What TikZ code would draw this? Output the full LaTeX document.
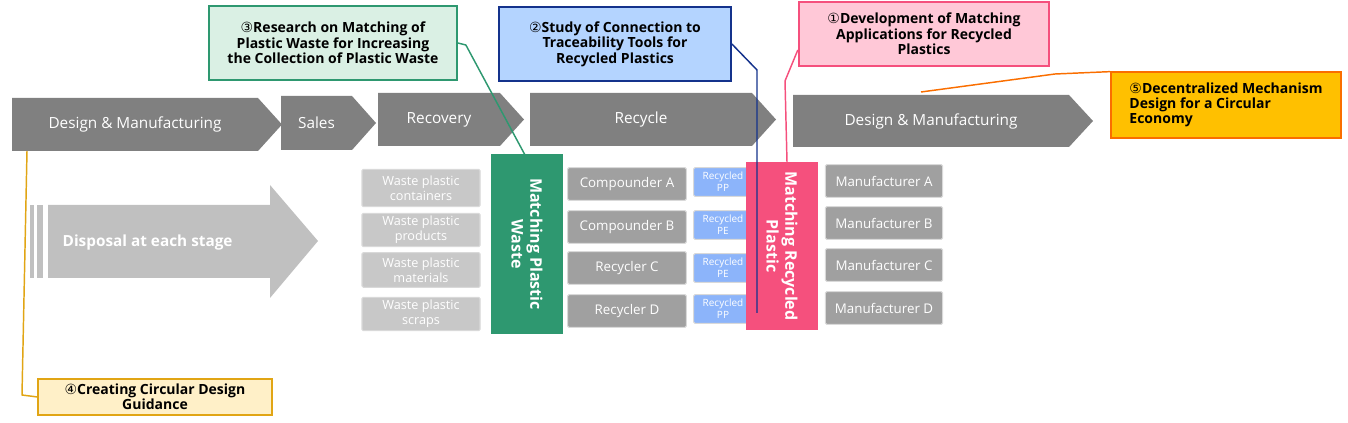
\documentclass[tikz,border=0pt]{standalone}
\usepackage{fontspec}
\setmainfont{Open Sans}
\newfontfamily\circfont{DejaVu Sans}
\usetikzlibrary{positioning}
\definecolor{stagegray}{RGB}{128,128,128}
\definecolor{dispgray}{RGB}{192,192,192}
\definecolor{wastegray}{RGB}{200,200,200}
\definecolor{compgray}{RGB}{160,160,160}
\definecolor{rpblue}{RGB}{140,180,250}
\definecolor{mgreen}{RGB}{46,152,112}
\definecolor{mpink}{RGB}{245,80,125}
\definecolor{c1fill}{RGB}{255,200,215}
\definecolor{c2fill}{RGB}{180,212,255}
\definecolor{c2line}{RGB}{20,50,140}
\definecolor{c3fill}{RGB}{218,240,228}
\definecolor{c5fill}{RGB}{255,192,0}
\definecolor{c5line}{RGB}{250,110,0}
\definecolor{c4fill}{RGB}{255,240,200}
\definecolor{c4line}{RGB}{225,165,20}
\tikzset{
  box/.style={draw=white!85!black,line width=0.8pt,rounded corners=1pt,text=white,align=center,inner sep=0pt},
  waste/.style={box,fill=wastegray,minimum width=88.5pt,font=\fontsize{9.5}{11}\selectfont},
  firm/.style={box,fill=compgray,minimum width=89pt,minimum height=24.5pt,font=\fontsize{10}{12}\selectfont},
  rp/.style={box,fill=rpblue,minimum width=44pt,minimum height=21.5pt,font=\fontsize{7.5}{9}\selectfont},
  vtext/.style={rotate=-90,text=white,align=center,font=\fontsize{12}{14}\selectfont\bfseries},
  callout/.style={draw,line width=1.3pt,align=center,font=\fontsize{10.5}{11.5}\selectfont\bfseries,inner sep=2pt},
  lead/.style={line width=1.1pt}
}
\newcommand{\stagearrow}[6]{% name, x1, x2, ytop, ybot, text
  \pgfmathsetmacro{\ymid}{(#4+#5)/2}
  \fill[stagegray] (#2,#4) -- (#3-24,#4) -- (#3,\ymid) -- (#3-24,#5) -- (#2,#5) -- cycle;
  \node[text=white,font=\fontsize{11.5}{14}\selectfont] (#1) at ({(#2+#3-24)/2},\ymid) {#6};
}
\begin{document}
\begin{tikzpicture}[x=0.75pt,y=-0.75pt]
\useasboundingbox (0,0) rectangle (1348,423);

% stages
\stagearrow{dm1}{12}{282}{98}{151}{Design \& Manufacturing}
\stagearrow{sales}{281}{376}{96}{150}{Sales}
\stagearrow{recovery}{378}{524}{93}{146}{Recovery}
\stagearrow{recycle}{530}{776}{93}{146}{Recycle}
\stagearrow{dm2}{793}{1093}{95}{147}{Design \& Manufacturing}

% disposal
\fill[dispgray] (30,205) rectangle (34,278);
\fill[dispgray] (37,205) rectangle (43,278);
\fill[dispgray] (48,205) -- (270,205) -- (270,185) -- (318,241) -- (270,298) -- (270,278) -- (48,278) -- cycle;
\node[text=white,font=\fontsize{11.5}{13}\selectfont\bfseries,anchor=west] (disp) at (58,243) {Disposal at each stage};

% waste
\node[waste,minimum height=28pt] (w1) at (421,188) {Waste plastic\\containers};
\node[waste,minimum height=25pt] (w2) at (421,230) {Waste plastic\\products};
\node[waste,minimum height=26pt] (w3) at (421,270) {Waste plastic\\materials};
\node[waste,minimum height=25pt] (w4) at (421,314) {Waste plastic\\scraps};

% matching plastic waste
\node[fill=mgreen,minimum width=54pt,minimum height=135pt] (mpw) at (527,244) {};
\node[vtext] at (mpw) {Matching Plastic\\Waste};

% compounders / recyclers
\foreach \n/\t/\y in {c1/Compounder A/184,c2/Compounder B/227,c3/Recycler C/268,c4/Recycler D/311}
  \node[firm] (\n) at (627,\y) {\t};
\foreach \n/\t/\y in {r1/PP/182,r2/PE/225,r3/PE/268,r4/PP/309}
  \node[rp] (\n) at (723,\y) {Recycled\\\t};

% matching recycled plastic
\node[fill=mpink,minimum width=54pt,minimum height=126pt] (mrp) at (782,246) {};
\node[vtext] at (mrp) {Matching Recycled\\Plastic};

% manufacturers
\foreach \n/\t/\y in {m1/A/181,m2/B/223,m3/C/265,m4/D/308}
  \node[firm,minimum width=88pt] (\n) at (884,\y) {Manufacturer \t};

% callouts
\node[callout,draw=mgreen,fill=c3fill,minimum width=186pt,minimum height=56pt] (c3box) at (333,43)
  {{\circfont\mdseries ③}Research on Matching of\\Plastic Waste for Increasing\\the Collection of Plastic Waste};
\node[callout,draw=c2line,fill=c2fill,minimum width=174pt,minimum height=55pt] (c2box) at (615,44)
  {{\circfont\mdseries ②}Study of Connection to\\Traceability Tools for\\Recycled Plastics};
\node[callout,draw=mpink,fill=c1fill,minimum width=188pt,minimum height=48pt] (c1box) at (924,34)
  {{\circfont\mdseries ①}Development of Matching\\Applications for Recycled\\Plastics};
\node[callout,draw=c5line,fill=c5fill,minimum width=173pt,minimum height=50pt,align=left,inner xsep=3pt] (c5box) at (1226,105)
  {{\circfont\mdseries ⑤}Decentralized Mechanism\\Design for a Circular\\Economy\hspace*{45pt}};
\node[callout,draw=c4line,fill=c4fill,minimum width=175pt,minimum height=27pt] (c4box) at (155,397)
  {{\circfont\mdseries ④}Creating Circular Design\\Guidance};

% leaders
\coordinate (k3) at (525,155);
\draw[lead,mgreen] (c3box.east) -- ++(8,2) -- (k3);
\coordinate (k2a) at (757,70);
\coordinate (k2b) at (757,313);
\draw[lead,c2line] (c2box.east) -- (k2a) -- (k2b);
\coordinate (k1a) at (785,81);
\coordinate (k1b) at (787,162);
\draw[lead,mpink] ([yshift=-12pt]c1box.west) -- (k1a) -- (k1b);
\coordinate (k5a) at (1055,74);
\coordinate (k5b) at (921,92);
\draw[lead,c5line] ([yshift=25pt]c5box.west) -- (k5a) -- (k5b);
\coordinate (k4a) at (27,151);
\coordinate (k4b) at (22,395);
\draw[lead,c4line] (k4a) -- (k4b) -- (c4box.west);
\end{tikzpicture}
\end{document}
